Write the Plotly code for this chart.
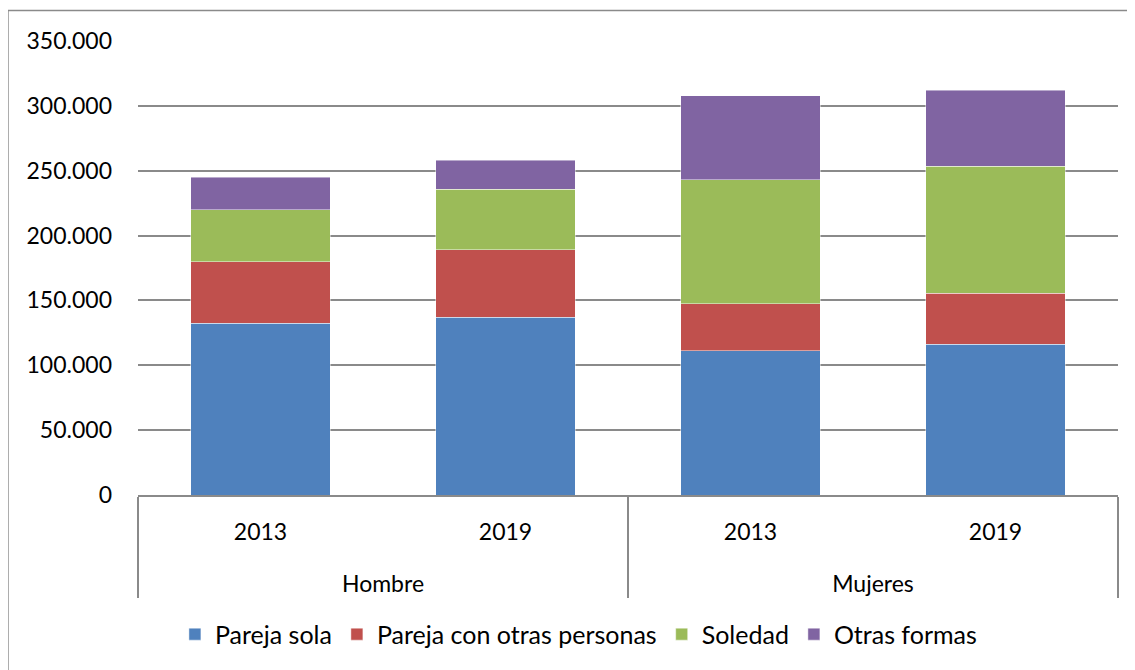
import plotly.graph_objects as go

grupos = ["Hombre", "Hombre", "Mujeres", "Mujeres"]
anios = ["2013", "2019", "2013", "2019"]

pareja_sola = [132300, 137100, 111400, 116200]
pareja_con_otras = [47500, 52100, 36200, 39300]
soledad = [40000, 46500, 95500, 97800]
otras_formas = [25100, 22400, 64600, 58700]

series = [
    ("Pareja sola", pareja_sola, "#4F81BD"),
    ("Pareja con otras personas", pareja_con_otras, "#C0504D"),
    ("Soledad", soledad, "#9BBB59"),
    ("Otras formas", otras_formas, "#8064A2"),
]

FONT = "Lato"
GRID = "#8a8a8a"

# an empty second line under each year gives the group row the spacing of the original
anios_txt = [a + "<br><span style='font-size:55px'>\u00a0</span>" for a in anios]

fig = go.Figure()
for name, vals, color in series:
    fig.add_trace(go.Bar(
        x=[grupos, anios_txt], y=vals, name=name,
        marker=dict(color=color, line=dict(color="rgba(255,255,255,0.45)", width=1)),
    ))

fig.update_layout(
    barmode="stack",
    bargap=0.43,
    width=1127, height=662,
    margin=dict(l=130, r=17, t=33, b=172, pad=0),
    paper_bgcolor="white", plot_bgcolor="white",
    separators=",.",
    font=dict(family=FONT, size=23, color="#000000"),
    showlegend=True,
    legend=dict(orientation="h", x=0.4494, xanchor="center", y=-0.307, yanchor="middle",
                font=dict(family=FONT, size=25), traceorder="normal",
                itemclick=False, itemwidth=30),
    xaxis=dict(
        type="multicategory", showline=True, linecolor=GRID, linewidth=1.5,
        showdividers=True, dividercolor=GRID, dividerwidth=1.5,
        ticks="", ticklabelstandoff=16,
        tickfont=dict(family=FONT, size=23),
        showgrid=False,
    ),
    yaxis=dict(
        range=[0, 350000], tickvals=[0, 50000, 100000, 150000, 200000, 250000, 300000, 350000],
        tickformat=",d", showgrid=True, gridcolor=GRID, gridwidth=1.5,
        zeroline=False, showline=False, ticks="", ticklabelstandoff=25,
        tickfont=dict(family=FONT, size=23),
    ),
    shapes=[
        dict(type="line", xref="paper", yref="paper", x0=-0.1327, x1=1.05, y0=1.0674, y1=1.0674,
             line=dict(color="#8a8a8a", width=1.5)),
        dict(type="line", xref="paper", yref="paper", x0=-0.1327, x1=-0.1327, y0=1.0674, y1=-0.45,
             line=dict(color="#8a8a8a", width=1.5)),
    ],
)

fig.write_html("out.html")
